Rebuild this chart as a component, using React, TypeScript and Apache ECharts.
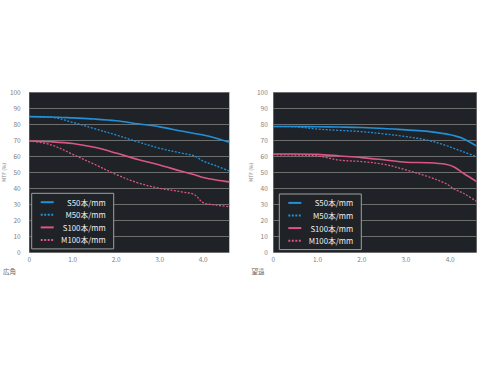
import React, { useEffect, useRef } from "react";
import * as echarts from "echarts";

// Image height (mm) positions
const wideX = [0, 0.5, 1.0, 1.5, 2.0, 2.5, 3.0, 3.5, 3.8, 4.0, 4.3, 4.6];
const wideS50 = [84.8, 84.6, 84.0, 83.3, 82.2, 80.3, 78.4, 75.8, 74.3, 73.3, 71.3, 68.8];
const wideM50 = [84.8, 84.4, 81.2, 77.3, 73.3, 69.0, 65.0, 62.0, 60.2, 57.0, 54.0, 50.8];
const wideS100 = [69.6, 69.1, 68.0, 65.6, 62.0, 58.0, 54.6, 50.6, 48.5, 46.8, 45.2, 44.0];
const wideM100 = [69.6, 67.2, 61.2, 55.0, 48.6, 43.4, 40.0, 37.8, 36.0, 31.0, 29.5, 28.5];

const teleX = [0, 0.5, 1.0, 1.5, 2.0, 2.5, 3.0, 3.5, 3.9, 4.1, 4.3, 4.6];
const teleS50 = [78.6, 78.6, 78.5, 78.3, 78.0, 77.4, 76.5, 75.6, 74.0, 72.8, 71.0, 66.4];
const teleM50 = [78.6, 78.4, 77.0, 76.2, 75.4, 74.0, 72.3, 70.0, 66.8, 64.8, 62.8, 59.8];
const teleS100 = [61.4, 61.4, 61.2, 60.2, 59.2, 57.8, 56.3, 56.0, 55.0, 53.2, 49.4, 44.2];
const teleM100 = [61.0, 60.8, 60.2, 57.6, 56.7, 55.0, 51.5, 47.3, 43.0, 39.4, 36.9, 31.7];

const seriesNames = ["S50本/mm", "M50本/mm", "S100本/mm", "M100本/mm"];
const xTickLabels = ["0", "1.0", "2.0", "3.0", "4.0"];
const yAxisName = "MTF (%)";
const panelTitles = ["広角", "望遠"];

const BLUE = "#2190d8";
const PINK = "#dc5584";
const BG = "#1f2227";
const FONT = "'Noto Sans CJK JP', 'Noto Sans', sans-serif";

const pair = (xs: number[], ys: number[]) => xs.map((x, i) => [x, ys[i]]);

export default function App() {
  const ref = useRef<HTMLDivElement>(null);
  useEffect(() => {
    if (!ref.current) return;
    const chart = echarts.init(ref.current, undefined, { renderer: "svg" });

    const grids = [
      { left: 24.3, top: 92.3, width: 205, height: 160 },
      { left: 273.3, top: 92.3, width: 203.4, height: 160 },
    ];
    const xAxis = grids.map((_, i) => ({
      type: "value",
      gridIndex: i,
      min: 0,
      max: 4.6,
      interval: 1,
      axisLine: { show: false },
      axisTick: { show: false },
      splitLine: { show: false },
      axisLabel: {
        color: "#808080",
        fontSize: 6.5,
        fontFamily: FONT,
        margin: 3,
        showMaxLabel: false,
        formatter: (v: number) => xTickLabels[Math.round(v)] ?? "",
      },
    }));
    const yAxis = grids.map((_, i) => ({
      type: "value",
      gridIndex: i,
      min: 0,
      max: 100,
      interval: 10,
      name: yAxisName,
      nameLocation: "middle",
      nameRotate: 90,
      nameGap: i === 0 ? 13 : 17,
      nameTextStyle: { color: "#808080", fontSize: 5, fontFamily: FONT },
      axisLine: { show: false },
      axisTick: { show: false },
      splitLine: { lineStyle: { color: "#6e6e6e", width: 1 } },
      axisLabel: { color: "#808080", fontSize: 6.5, fontFamily: FONT, margin: i === 0 ? 8.5 : 5.5 },
    }));

    const styles = [
      { color: BLUE, type: "solid", width: 1.6 },
      { color: BLUE, type: [2, 1.5], width: 1.3 },
      { color: PINK, type: "solid", width: 1.6 },
      { color: PINK, type: [2, 1.5], width: 1.3 },
    ];
    const panels = [
      [wideS50, wideM50, wideS100, wideM100].map((ys) => pair(wideX, ys)),
      [teleS50, teleM50, teleS100, teleM100].map((ys) => pair(teleX, ys)),
    ];
    const series: any[] = [];
    panels.forEach((panel, g) => {
      panel.forEach((data, k) => {
        series.push({
          type: "line",
          name: seriesNames[k],
          xAxisIndex: g,
          yAxisIndex: g,
          data,
          smooth: 0.35,
          symbol: "none",
          lineStyle: styles[k],
          itemStyle: { color: styles[k].color },
        });
      });
    });

    const legendBase = {
      orient: "vertical",
      padding: [5, 8, 5, 8],
      itemWidth: 13,
      itemHeight: 7,
      itemGap: 4.8,
      backgroundColor: BG,
      borderColor: "#a0a0a0",
      borderWidth: 1,
      data: seriesNames,
      selectedMode: false,
      itemStyle: { color: "rgba(0,0,0,0)", borderColor: "rgba(0,0,0,0)", borderWidth: 0 },
      formatter: (n: string) => `{a|${n}}`,
      textStyle: {
        color: "#ececec",
        fontSize: 7.8,
        fontFamily: FONT,
        rich: { a: { width: 47, align: "right", fontSize: 7.8, color: "#ececec", fontFamily: FONT } },
      },
    };

    chart.setOption({
      animation: false,
      grid: grids.map((g) => ({ ...g, show: true, backgroundColor: BG, borderWidth: 0 })),
      xAxis,
      yAxis,
      legend: [
        { ...legendBase, left: 31.7, top: 193.3 },
        { ...legendBase, left: 279.3, top: 194 },
      ],
      series,
      graphic: [
        { type: "text", left: 3, top: 268, style: { text: panelTitles[0], fill: "#666", fontSize: 6.5, fontFamily: FONT } },
        { type: "text", left: 251.5, top: 268, style: { text: panelTitles[1], fill: "#666", fontSize: 6.5, fontFamily: FONT } },
      ],
    });
    return () => chart.dispose();
  }, []);
  return (
    <div
      ref={ref}
      style={{ position: "fixed", left: 0, top: 0, width: 490, height: 368, background: "#fff" }}
    />
  );
}
